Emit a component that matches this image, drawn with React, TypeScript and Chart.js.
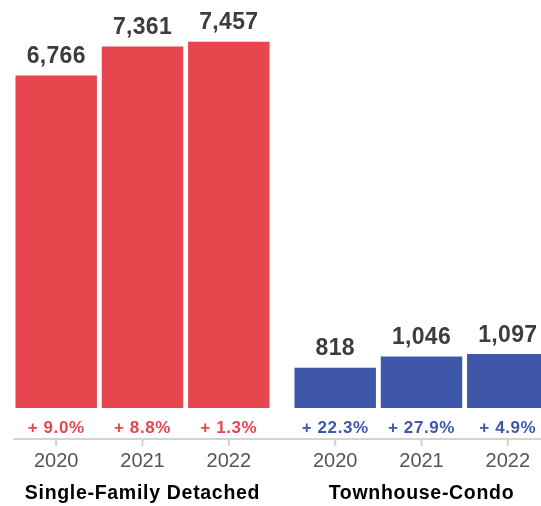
import React, { useEffect, useRef } from "react";
import { Chart, registerables } from "chart.js";

Chart.register(...registerables);

const categories = ["Single-Family Detached", "Townhouse-Condo"];
const years = ["2020", "2021", "2022"];
const sfdValues = [6766, 7361, 7457];
const tcValues = [818, 1046, 1097];
const sfdChange = [9.0, 8.8, 1.3];
const tcChange = [22.3, 27.9, 4.9];

const RED = "#e8464e";
const BLUE = "#3e57a8";
const groupColors = [RED, BLUE];
const changes = [sfdChange, tcChange];

const labelPlugin = {
  id: "labelPlugin",
  afterDatasetsDraw(chart: any) {
    const ctx = chart.ctx as CanvasRenderingContext2D;
    const area = chart.chartArea;
    const bottom = area.bottom;
    const axisY = bottom + 31;
    ctx.save();
    let minX = Infinity;
    let maxX = -Infinity;
    chart.data.datasets.forEach((ds: any, di: number) => {
      const meta = chart.getDatasetMeta(di);
      meta.data.forEach((bar: any, ci: number) => {
        const w = bar.width;
        minX = Math.min(minX, bar.x - w / 2);
        maxX = Math.max(maxX, bar.x + w / 2);
        ctx.textAlign = "center";
        ctx.textBaseline = "alphabetic";
        // value label
        ctx.fillStyle = "#3d3d3d";
        ctx.font = "bold 23px 'Liberation Sans', Arial, sans-serif";
        (ctx as any).letterSpacing = "0.3px";
        ctx.fillText(Number(ds.data[ci]).toLocaleString("en-US"), bar.x, bar.y - 12.5);
        // percent label
        ctx.fillStyle = groupColors[ci];
        ctx.font = "bold 17px 'Liberation Sans', Arial, sans-serif";
        (ctx as any).letterSpacing = "0.6px";
        ctx.fillText("+ " + changes[ci][di].toFixed(1) + "%", bar.x, bottom + 25);
        // tick
        ctx.strokeStyle = "#d2d2d2";
        ctx.lineWidth = 2;
        ctx.beginPath();
        ctx.moveTo(bar.x, axisY);
        ctx.lineTo(bar.x, axisY + 7);
        ctx.stroke();
        // year label
        ctx.fillStyle = "#555555";
        ctx.font = "20px 'Liberation Sans', Arial, sans-serif";
        (ctx as any).letterSpacing = "0px";
        ctx.fillText(years[di], bar.x, bottom + 59);
      });
    });
    // axis line
    ctx.strokeStyle = "#d2d2d2";
    ctx.lineWidth = 2;
    ctx.beginPath();
    ctx.moveTo(minX - 2, axisY);
    ctx.lineTo(maxX + 2, axisY);
    ctx.stroke();
    // group labels
    const xs = chart.scales.x;
    ctx.fillStyle = "#000000";
    ctx.font = "bold 19.5px 'Liberation Sans', Arial, sans-serif";
    (ctx as any).letterSpacing = "0.7px";
    categories.forEach((c, i) => {
      ctx.fillText(c, xs.getPixelForValue(i), bottom + 91);
    });
    ctx.restore();
  },
};

export default function App() {
  const canvasRef = useRef<HTMLCanvasElement | null>(null);
  useEffect(() => {
    if (!canvasRef.current) return;
    const chart = new Chart(canvasRef.current, {
      type: "bar",
      data: {
        labels: categories,
        datasets: years.map((y, i) => ({
          label: y,
          data: [sfdValues[i], tcValues[i]],
          backgroundColor: groupColors,
          borderWidth: 0,
          categoryPercentage: 0.928,
          barPercentage: 0.944,
        })),
      },
      options: {
        animation: false,
        responsive: true,
        maintainAspectRatio: false,
        layout: { padding: { left: 3, right: 3, top: 15, bottom: 98 } },
        plugins: {
          legend: { display: false },
          tooltip: { enabled: false },
          title: { display: false },
        },
        scales: {
          x: { display: false },
          y: { display: false, min: 0, max: 8000 },
        },
      },
      plugins: [labelPlugin],
    });
    return () => chart.destroy();
  }, []);

  return (
    <div
      style={{
        position: "fixed",
        left: 0,
        top: 0,
        width: 541,
        height: 506,
        overflow: "hidden",
        background: "#ffffff",
      }}
    >
      <div style={{ position: "relative", width: 564, height: 506 }}>
        <canvas ref={canvasRef} />
      </div>
    </div>
  );
}
